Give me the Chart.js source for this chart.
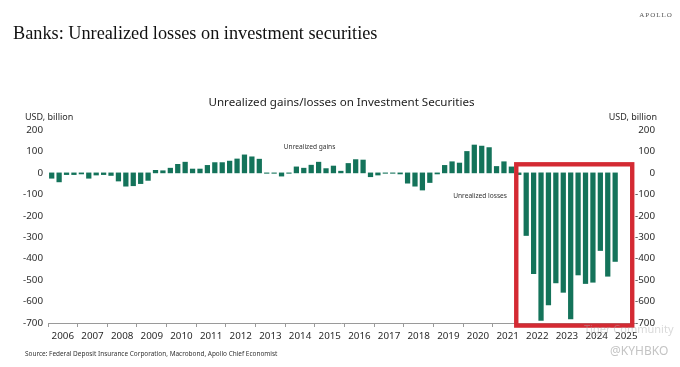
<!DOCTYPE html>
<html>
<head>
<meta charset="utf-8">
<script src="https://cdn.jsdelivr.net/npm/chart.js@4.4.1/dist/chart.umd.min.js"></script>
<style>
  html, body { margin: 0; padding: 0; background: #fff; }
  #wrap { position: relative; width: 680px; height: 367px; }
</style>
</head>
<body>
<div id="wrap"><canvas id="chart" width="680" height="367"></canvas></div>
<script>
// years on the axis (2025 only has Q1 so far)
var years = ['2006', '2007', '2008', '2009', '2010', '2011', '2012', '2013', '2014', '2015',
             '2016', '2017', '2018', '2019', '2020', '2021', '2022', '2023', '2024', '2025'];
var quarterNames = ['Q1', 'Q2', 'Q3', 'Q4'];

// unrealized gains/losses, USD bn, quarterly from 2006Q1
var gainsLosses = [
  -25, -42, -8, -8,        // 2006
  -5, -25, -10, -8,        // 2007
  -12, -38, -62, -60,      // 2008
  -50, -35, 12, 10,        // 2009
  22, 40, 50, 18,          // 2010
  18, 35, 48, 48,          // 2011
  55, 65, 84, 75,          // 2012
  64, -2, -2, -15,         // 2013
  -2, 28, 22, 36,          // 2014
  50, 20, 32, 8,           // 2015
  44, 62, 60, -18,         // 2016
  -10, -2, -2, -5,         // 2017
  -48, -62, -80, -45,      // 2018
  -5, 35, 52, 46,          // 2019
  100, 130, 125, 118,      // 2020
  30, 52, 28, -8,          // 2021
  -292, -470, -688, -616,  // 2022
  -513, -557, -681, -476,  // 2023
  -516, -510, -362, -482,  // 2024
  -413                     // 2025
];

var yTicks = [200, 100, 0, -100, -200, -300, -400, -500, -600, -700];

// quarter labels built from years
var quarters = [];
years.forEach(function(y) {
  quarterNames.forEach(function(q) { quarters.push(y + q); });
});

var points = gainsLosses.map(function(v, i) {
  return { x: (i + 0.5) / 4, y: v, label: quarters[i] };
});

var textColor = '#2b2b2b';
var axisFamily = "'Noto Sans', sans-serif";
var numFont = { family: axisFamily, size: 9.8 };
// plot runs a touch short of the end of 2025, the box hides it
var xMax = 19.76;

// texts around the chart + the red highlight box
var decorations = {
  id: 'decorations',
  afterDraw: function(chart) {
    var ctx = chart.ctx;
    var xs = chart.scales.x, ys = chart.scales.y;
    ctx.save();

    // red box around the 2022+ losses
    var bx1 = xs.getPixelForValue(15.79), bx2 = xs.getPixelForValue(19.7);
    var by1 = ys.getPixelForValue(40), by2 = ys.getPixelForValue(-712);
    ctx.strokeStyle = '#d42a33';
    ctx.lineWidth = 4.4;
    ctx.strokeRect(bx1, by1, bx2 - bx1, by2 - by1);

    // in-chart notes
    ctx.fillStyle = '#333';
    ctx.font = "6.6px 'Noto Sans', sans-serif";
    ctx.textAlign = 'center';
    ctx.textBaseline = 'middle';
    ctx.fillText('Unrealized gains', xs.getPixelForValue(8.82), ys.getPixelForValue(121));
    ctx.fillText('Unrealized losses', xs.getPixelForValue(14.57), ys.getPixelForValue(-110));

    // page title
    ctx.fillStyle = '#111';
    ctx.textAlign = 'left';
    ctx.textBaseline = 'alphabetic';
    ctx.font = "18.25px 'Liberation Serif', serif";
    ctx.fillText('Banks: Unrealized losses on investment securities', 13, 39);

    // logo
    ctx.fillStyle = '#555';
    ctx.font = "7px 'Liberation Serif', serif";
    ctx.letterSpacing = '1px';
    ctx.textAlign = 'center';
    ctx.textBaseline = 'middle';
    ctx.fillText('APOLLO', 656, 15);
    ctx.letterSpacing = '0px';

    // chart title
    ctx.fillStyle = '#222';
    ctx.font = "11.6px 'Noto Sans', sans-serif";
    ctx.fillText('Unrealized gains/losses on Investment Securities', 341.5, 103);

    // axis units
    ctx.font = "9px " + axisFamily;
    ctx.fillStyle = textColor;
    ctx.textAlign = 'left';
    ctx.fillText('USD, billion', 25, 117.5);
    ctx.textAlign = 'right';
    ctx.fillText('USD, billion', 657, 117.5);

    // source
    ctx.textAlign = 'left';
    ctx.fillStyle = '#333';
    ctx.font = "6.45px 'Noto Sans', sans-serif";
    ctx.fillText('Source: Federal Deposit Insurance Corporation, Macrobond, Apollo Chief Economist', 25, 354);

    // watermarks
    ctx.fillStyle = 'rgba(170,170,170,0.45)';
    ctx.font = "11px 'Noto Sans', sans-serif";
    ctx.fillText('Tiger Community', 584, 330);
    ctx.fillStyle = '#c4c4c4';
    ctx.font = "12px 'Noto Sans', sans-serif";
    ctx.fillText('@KYHBKO', 610, 352);

    ctx.restore();
  }
};

function yAxis(position, width) {
  return {
    type: 'linear',
    position: position,
    min: -700,
    max: 200,
    grid: { display: false, drawTicks: false },
    border: { display: false },
    ticks: {
      stepSize: 100,
      color: textColor,
      font: numFont,
      padding: 5,
      crossAlign: position === 'right' ? 'far' : 'near'
    },
    afterBuildTicks: function(scale) {
      scale.ticks = yTicks.map(function(v) { return { value: v }; });
    },
    afterFit: function(scale) { scale.width = width; }
  };
}

new Chart(document.getElementById('chart'), {
  type: 'bar',
  data: {
    datasets: [{
      label: 'Unrealized gains/losses',
      data: points,
      backgroundColor: '#14735a',
      borderWidth: 0,
      barThickness: 4.6
    }]
  },
  options: {
    responsive: false,
    animation: false,
    devicePixelRatio: 1,
    layout: { padding: { left: 0, right: 25, top: 130, bottom: 18 } },
    plugins: {
      legend: { display: false },
      title: { display: false },
      tooltip: { enabled: false }
    },
    scales: {
      x: {
        type: 'linear',
        position: 'bottom',
        offset: false,
        min: 0,
        max: xMax,
        weight: 0,
        grid: { drawOnChartArea: false, drawTicks: true, tickLength: 4, color: '#9a9a9a', offset: false },
        border: { display: true, color: '#9a9a9a' },
        ticks: { display: false },
        afterBuildTicks: function(scale) {
          var t = [];
          for (var i = 0; i < years.length; i++) t.push({ value: i });
          scale.ticks = t;
        },
        afterFit: function(scale) { scale.height = 4; }
      },
      x2: {
        type: 'linear',
        position: 'bottom',
        offset: false,
        min: 0,
        max: xMax,
        weight: 1,
        grid: { display: false, drawTicks: false, offset: false },
        border: { display: false },
        ticks: {
          color: textColor,
          font: numFont,
          padding: 3,
          autoSkip: false,
          maxRotation: 0,
          callback: function(v) { return years[Math.floor(v)]; }
        },
        afterBuildTicks: function(scale) {
          scale.ticks = years.map(function(y, i) { return { value: i + 0.5 }; });
        },
        afterFit: function(scale) { scale.height = 22; }
      },
      y: yAxis('left', 48),
      y2: yAxis('right', 21)
    }
  },
  plugins: [decorations]
});
</script>
</body>
</html>
